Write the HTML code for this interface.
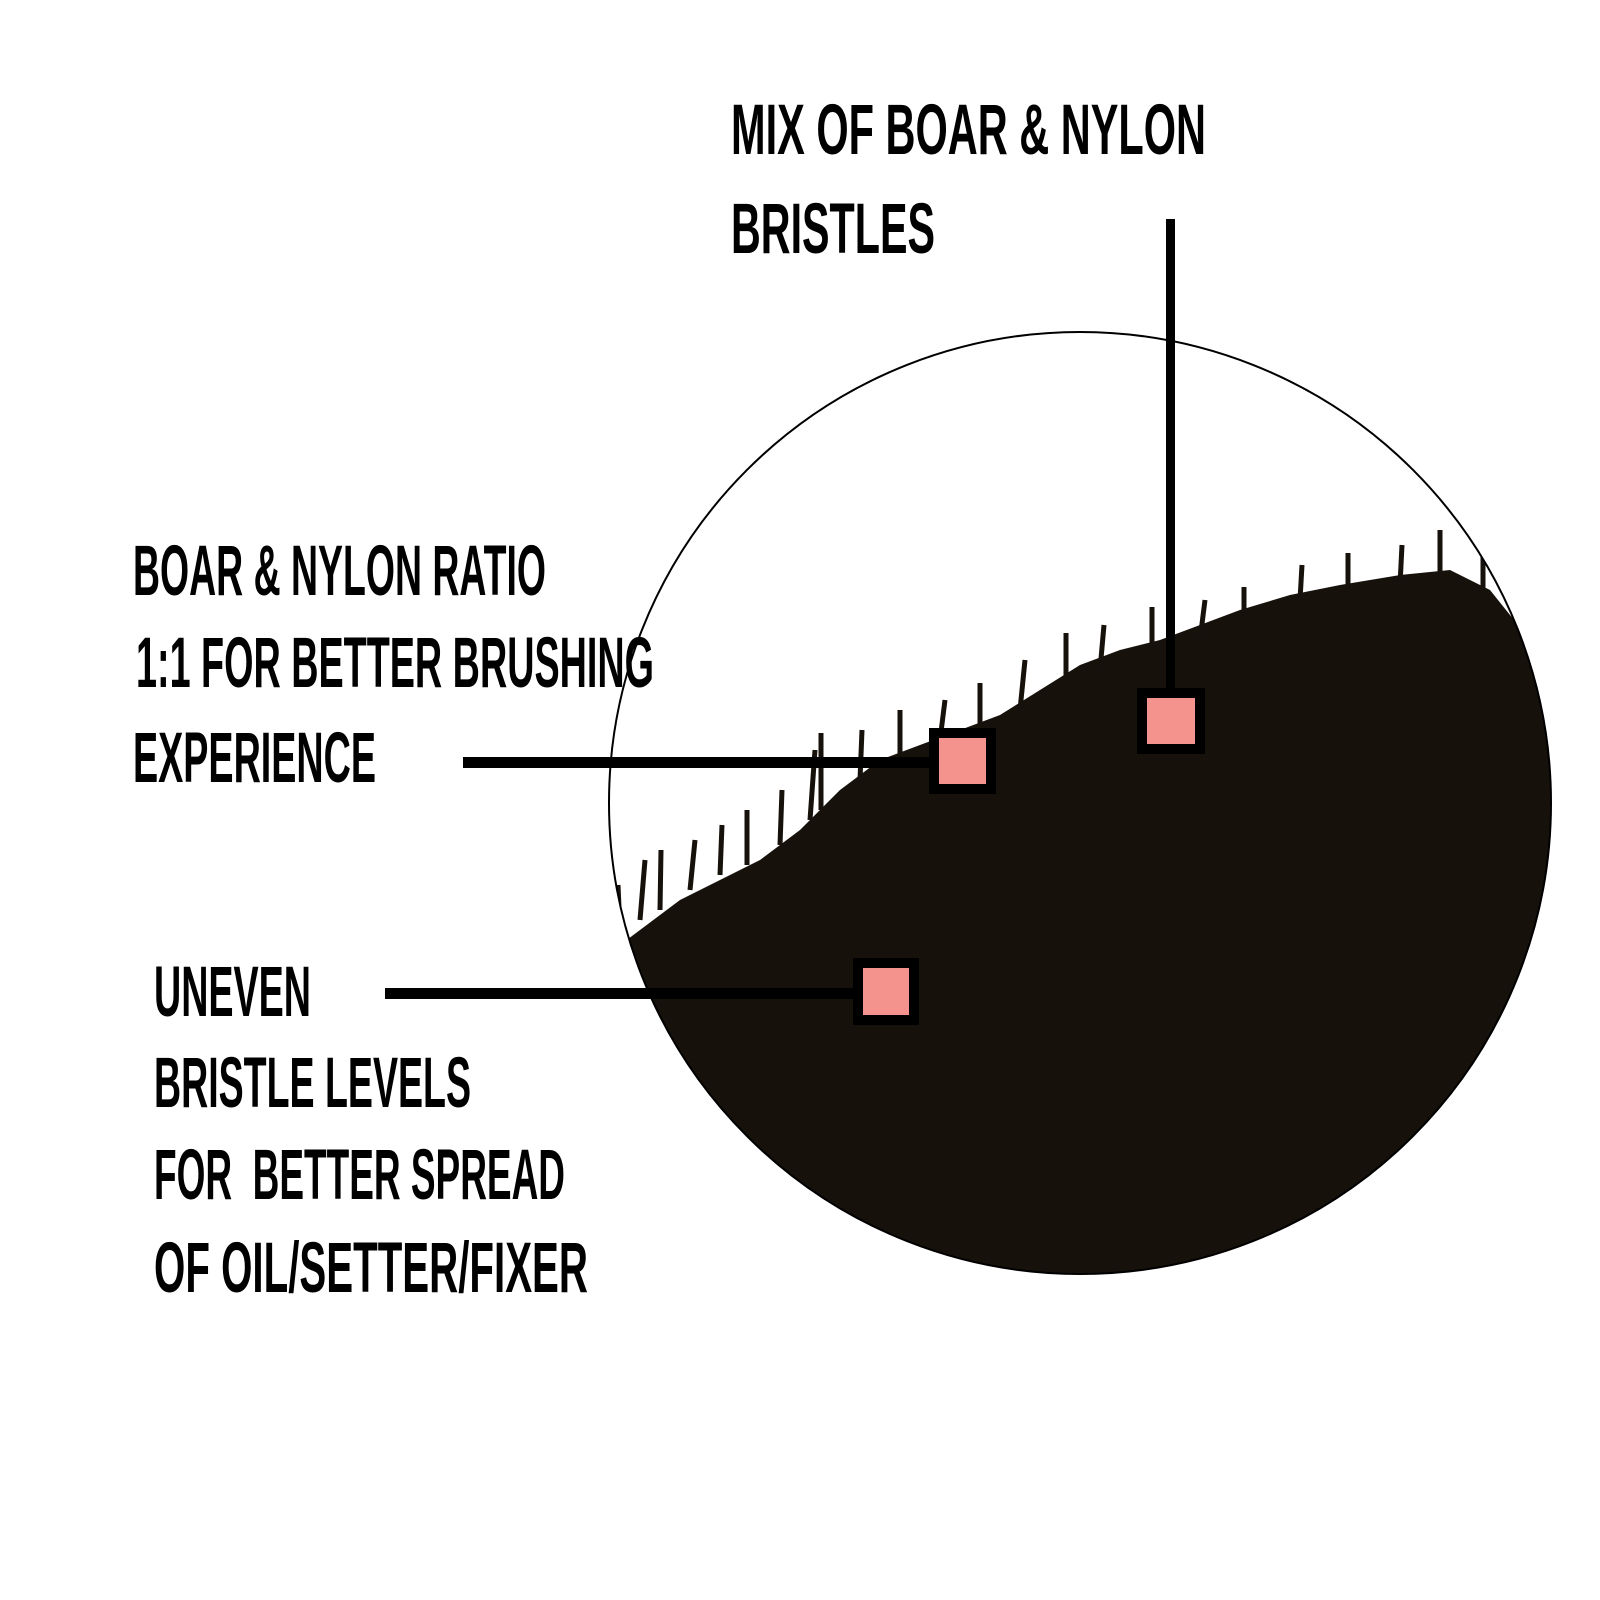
<!DOCTYPE html>
<html><head><meta charset="utf-8"><style>
html,body{margin:0;padding:0;background:#fff;width:1600px;height:1600px;overflow:hidden}
text{font-family:"Liberation Sans Narrow","Liberation Sans",sans-serif;font-weight:bold;fill:#000}
</style></head><body>
<svg width="1600" height="1600" viewBox="0 0 1600 1600" xmlns="http://www.w3.org/2000/svg">
<defs><clipPath id="c"><circle cx="1080" cy="803" r="471"/></clipPath></defs>
<g clip-path="url(#c)">
<polygon fill="#17110c" points="600,960 640,930 680,900 720,880 760,860 800,830 840,790 880,760 920,745 960,730 1000,715 1040,690 1080,665 1120,650 1160,640 1200,625 1240,610 1290,595 1340,585 1400,575 1450,570 1490,590 1530,640 1600,700 1600,1300 600,1300"/>
<g stroke="#17110c" stroke-width="5">
<line x1="620" y1="930" x2="618" y2="885"/><line x1="640" y1="920" x2="645" y2="860"/><line x1="660" y1="910" x2="661" y2="850"/>
<line x1="690" y1="890" x2="695" y2="840"/><line x1="720" y1="875" x2="722" y2="825"/><line x1="747" y1="865" x2="747" y2="810"/>
<line x1="780" y1="845" x2="782" y2="790"/><line x1="810" y1="820" x2="815" y2="750"/><line x1="821" y1="810" x2="821" y2="733"/>
<line x1="860" y1="780" x2="862" y2="730"/><line x1="900" y1="760" x2="900" y2="710"/><line x1="940" y1="740" x2="945" y2="700"/>
<line x1="980" y1="730" x2="980" y2="683"/><line x1="1020" y1="710" x2="1025" y2="660"/><line x1="1066" y1="690" x2="1066" y2="633"/>
<line x1="1100" y1="670" x2="1104" y2="625"/><line x1="1152" y1="650" x2="1152" y2="607"/><line x1="1200" y1="640" x2="1205" y2="600"/>
<line x1="1244" y1="620" x2="1244" y2="587"/><line x1="1300" y1="600" x2="1302" y2="565"/><line x1="1348" y1="590" x2="1348" y2="553"/>
<line x1="1400" y1="585" x2="1402" y2="545"/><line x1="1440" y1="580" x2="1440" y2="530"/><line x1="1483" y1="590" x2="1483" y2="550"/>
</g>
</g>
<circle cx="1080" cy="803" r="471" fill="none" stroke="#000" stroke-width="2"/>
<rect x="1166" y="219" width="9" height="475" fill="#000"/>
<rect x="463" y="757" width="470" height="11" fill="#000"/>
<rect x="385" y="988" width="470" height="11" fill="#000"/>
<rect x="1142" y="693" width="58" height="56" fill="#f4938d" stroke="#000" stroke-width="10"/>
<rect x="934" y="733" width="57" height="56" fill="#f4938d" stroke="#000" stroke-width="10"/>
<rect x="858" y="963" width="56" height="57" fill="#f4938d" stroke="#000" stroke-width="10"/>
<g font-size="71">
<text x="731" y="154" textLength="475" lengthAdjust="spacingAndGlyphs">MIX OF BOAR &amp; NYLON</text>
<text x="731" y="253" textLength="204" lengthAdjust="spacingAndGlyphs">BRISTLES</text>
<text x="133" y="595" textLength="413" lengthAdjust="spacingAndGlyphs">BOAR &amp; NYLON RATIO</text>
<text x="136" y="687" textLength="518" lengthAdjust="spacingAndGlyphs">1:1 FOR BETTER BRUSHING</text>
<text x="133" y="782" textLength="243" lengthAdjust="spacingAndGlyphs">EXPERIENCE</text>
<text x="154" y="1016" textLength="157" lengthAdjust="spacingAndGlyphs">UNEVEN</text>
<text x="154" y="1107" textLength="317" lengthAdjust="spacingAndGlyphs">BRISTLE LEVELS</text>
<text x="154" y="1199" textLength="411" lengthAdjust="spacingAndGlyphs" xml:space="preserve">FOR  BETTER SPREAD</text>
<text x="154" y="1292" textLength="434" lengthAdjust="spacingAndGlyphs">OF OIL/SETTER/FIXER</text>
</g>
</svg>
</body></html>
